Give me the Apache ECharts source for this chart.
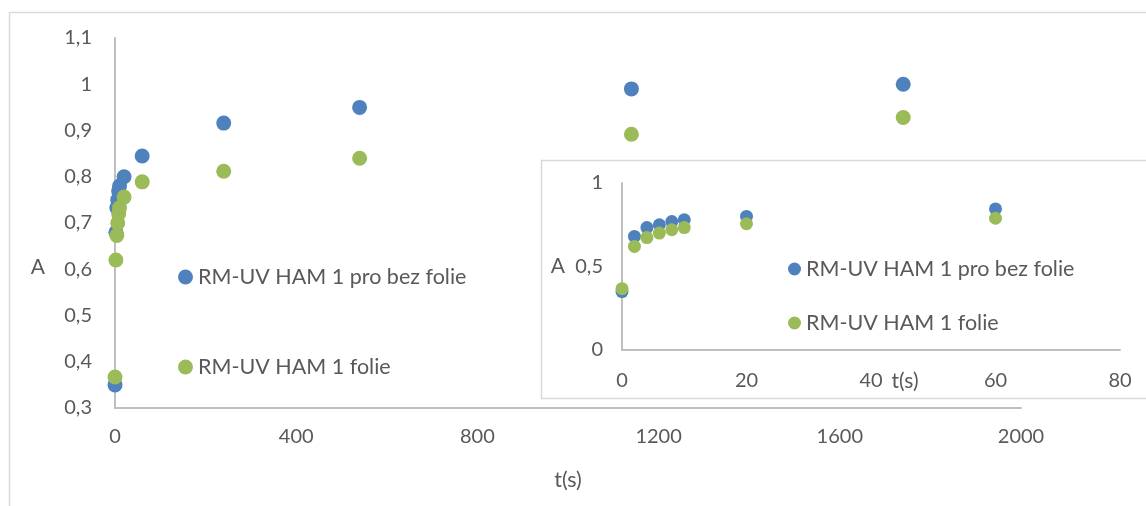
<!DOCTYPE html>
<html>
<head>
<meta charset="utf-8">
<script src="https://cdn.jsdelivr.net/npm/echarts@6/dist/echarts.min.js"></script>
<style>html,body{margin:0;padding:0;background:#fff}#c{width:1146px;height:506px}</style>
</head>
<body>
<div id="c"></div>
<script>
// Data
var times = [0, 2, 4, 6, 8, 10, 20, 60, 240, 540, 1140, 1740];
var bezFolie = [0.35, 0.68, 0.733, 0.75, 0.769, 0.78, 0.80, 0.845, 0.916, 0.95, 0.99, 1.0];
var folie = [0.367, 0.62, 0.673, 0.70, 0.72, 0.733, 0.756, 0.789, 0.812, 0.84, 0.892, 0.928];
var insetMaxT = 60;
var nameBez = 'RM-UV HAM 1 pro bez folie';
var nameFolie = 'RM-UV HAM 1 folie';

function pairs(vals, limit) {
  var out = [];
  for (var i = 0; i < times.length; i++) {
    if (limit === undefined || times[i] <= limit) out.push([times[i], vals[i]]);
  }
  return out;
}
var FONT = 'Lato';
var TXT = '#595959';
var AX = '#bfbfbf';
var BLUE = '#4f81bd';
var GREEN = '#9bbb59';
function fmt(v) { return (Math.round(v * 10) / 10).toString().replace('.', ','); }
function fmtInt(v) { return String(Math.round(v)); }

var chart = echarts.init(document.getElementById('c'));
chart.setOption({
  animation: false,
  textStyle: { fontFamily: FONT },
  graphic: [
    { type: 'rect', z: 0, silent: true, shape: { x: 9.5, y: 12.5, width: 1200, height: 600 },
      style: { fill: 'none', stroke: '#d9d9d9', lineWidth: 1.5 } },
    { type: 'rect', z: 3, silent: true, shape: { x: 541.5, y: 160.5, width: 700, height: 238 },
      style: { fill: '#fff', stroke: '#d9d9d9', lineWidth: 1.5 } }
  ],
  grid: [
    { left: 115, top: 38, right: 125, bottom: 98 },
    { left: 622, top: 183, right: 26, bottom: 156 }
  ],
  xAxis: [
    { gridIndex: 0, type: 'value', min: 0, max: 2000, interval: 400,
      name: 't(s)', nameLocation: 'middle', nameGap: 61, nameMoveOverlap: false,
      nameTextStyle: { color: TXT, fontSize: 21.5, fontFamily: FONT },
      axisLine: { onZero: false, lineStyle: { color: AX, width: 2 } },
      axisTick: { show: false }, splitLine: { show: false },
      axisLabel: { color: TXT, fontSize: 20, margin: 19, fontFamily: FONT, formatter: fmtInt } },
    { gridIndex: 1, type: 'value', min: 0, max: 80, interval: 20, z: 4,
      name: 't(s)', nameLocation: 'middle', nameGap: 21, nameMoveOverlap: false,
      nameTextStyle: { color: TXT, fontSize: 21, fontFamily: FONT, padding: [0, 0, 0, 68] },
      axisLine: { onZero: false, lineStyle: { color: AX, width: 2 } },
      axisTick: { show: false }, splitLine: { show: false },
      axisLabel: { color: TXT, fontSize: 20, margin: 21, fontFamily: FONT, formatter: fmtInt } }
  ],
  yAxis: [
    { gridIndex: 0, type: 'value', min: 0.3, max: 1.1, interval: 0.1,
      name: 'A', nameLocation: 'middle', nameRotate: 0, nameGap: 70, nameMoveOverlap: false,
      nameTextStyle: { color: TXT, fontSize: 21, fontFamily: FONT, verticalAlign: 'top', lineHeight: 88 },
      axisLine: { show: true, onZero: false, lineStyle: { color: AX, width: 2 } },
      axisTick: { show: false }, splitLine: { show: false },
      axisLabel: { color: TXT, fontSize: 20, margin: 23, fontFamily: FONT, formatter: fmt } },
    { gridIndex: 1, type: 'value', min: 0, max: 1, interval: 0.5, z: 4,
      name: 'A', nameLocation: 'middle', nameRotate: 0, nameGap: 57, nameMoveOverlap: false,
      nameTextStyle: { color: TXT, fontSize: 21, fontFamily: FONT },
      axisLine: { show: true, onZero: false, lineStyle: { color: AX, width: 2 } },
      axisTick: { show: false }, splitLine: { show: false },
      axisLabel: { color: TXT, fontSize: 20, margin: 19, fontFamily: FONT, formatter: fmt } }
  ],
  legend: [
    { orient: 'vertical', left: 178, top: 266, padding: 0, itemGap: 68,
      itemWidth: 15, itemHeight: 15, icon: 'circle', itemStyle: { borderWidth: 0 },
      textStyle: { color: TXT, fontSize: 21.5, fontFamily: FONT },
      data: [nameBez, nameFolie] },
    { orient: 'vertical', left: 788, top: 258, padding: 0, itemGap: 32, z: 6,
      itemWidth: 13, itemHeight: 13, icon: 'circle', itemStyle: { borderWidth: 0 },
      textStyle: { color: TXT, fontSize: 21.5, fontFamily: FONT },
      data: [nameBez, nameFolie] }
  ],
  series: [
    { name: nameBez, type: 'scatter', xAxisIndex: 0, yAxisIndex: 0, symbolSize: 15,
      itemStyle: { color: BLUE, opacity: 1 }, data: pairs(bezFolie) },
    { name: nameFolie, type: 'scatter', xAxisIndex: 0, yAxisIndex: 0, symbolSize: 15,
      itemStyle: { color: GREEN, opacity: 1 }, data: pairs(folie) },
    { name: nameBez, type: 'scatter', xAxisIndex: 1, yAxisIndex: 1, symbolSize: 13, z: 5,
      itemStyle: { color: BLUE, opacity: 1 }, data: pairs(bezFolie, insetMaxT) },
    { name: nameFolie, type: 'scatter', xAxisIndex: 1, yAxisIndex: 1, symbolSize: 13, z: 5,
      itemStyle: { color: GREEN, opacity: 1 }, data: pairs(folie, insetMaxT) }
  ]
});
</script>
</body>
</html>
